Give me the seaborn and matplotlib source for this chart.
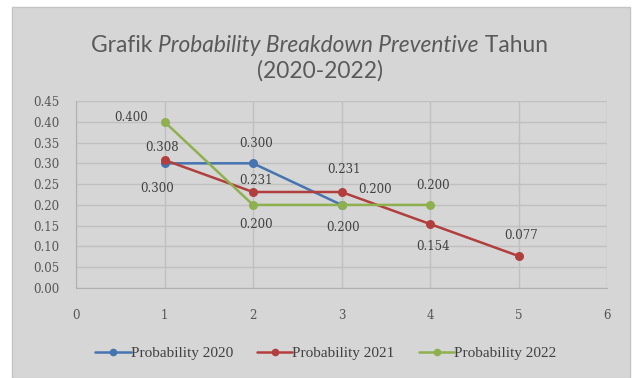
import matplotlib
matplotlib.use("Agg")
import matplotlib.pyplot as plt
import seaborn as sns
import pandas as pd
from matplotlib.patches import Rectangle

x2020 = [1, 2, 3]
p2020 = [0.300, 0.300, 0.200]
x2021 = [1, 2, 3, 4, 5]
p2021 = [0.308, 0.231, 0.231, 0.154, 0.077]
x2022 = [1, 2, 3, 4]
p2022 = [0.400, 0.200, 0.200, 0.200]
series_names = ["Probability 2020", "Probability 2021", "Probability 2022"]
colors = ["#4574b0", "#b13f3d", "#8fb04f"]
y_ticks = [0.00, 0.05, 0.10, 0.15, 0.20, 0.25, 0.30, 0.35, 0.40, 0.45]
x_ticks = [0, 1, 2, 3, 4, 5, 6]

df = pd.concat([
    pd.DataFrame({"x": x2020, "y": p2020, "series": series_names[0]}),
    pd.DataFrame({"x": x2021, "y": p2021, "series": series_names[1]}),
    pd.DataFrame({"x": x2022, "y": p2022, "series": series_names[2]}),
], ignore_index=True)

sns.set_style("white")
W, H = 632, 378
fig = plt.figure(figsize=(W / 100, H / 100), dpi=100)
fig.patch.set_facecolor("white")
bg = "#d6d6d6"
fig.patches.append(Rectangle((12 / W, 0), (630 - 12) / W, (H - 7) / H,
                             transform=fig.transFigure, facecolor=bg,
                             edgecolor="#c4c4c4", lw=1, zorder=-10))

ax = fig.add_axes([76 / W, 1 - 288 / H, (607 - 76) / W, (288 - 101) / H])
ax.set_facecolor(bg)

sns.lineplot(data=df, x="x", y="y", hue="series", palette=colors, marker="o",
             markersize=6.5, markeredgewidth=0, linewidth=1.8, ax=ax, legend=True,
             zorder=3)

ax.set_xlim(0, 6)
ax.set_ylim(0, 0.45)
ax.set_xticks(x_ticks)
ax.set_yticks(y_ticks)
ax.set_yticklabels([f"{v:.2f}" for v in y_ticks])
ax.set_xlabel("")
ax.set_ylabel("")
for lab in ax.get_xticklabels() + ax.get_yticklabels():
    lab.set_fontfamily("DejaVu Serif")
    lab.set_fontsize(8.5)
    lab.set_color("#555555")
ax.tick_params(axis="x", pad=15, length=0)
ax.tick_params(axis="y", pad=12, length=0)
ax.grid(True, color="#c0c0c0", linewidth=1)
ax.set_axisbelow(True)
for s in ax.spines.values():
    s.set_visible(False)
ax.spines["left"].set_visible(True)
ax.spines["left"].set_color("#b0b0b0")
ax.spines["bottom"].set_visible(True)
ax.spines["bottom"].set_color("#b0b0b0")

# data labels (offsets in points)
label_offsets = {
    0: [(-5, -18), (2, 14), (1, -16)],
    1: [(-2, 9), (2, 8.5), (2, 16), (2, -16.5), (2, 15)],
    2: [(-24, 3), (2, -14), (24, 11), (2, 14)],
}
for si, (xs, ys) in enumerate([(x2020, p2020), (x2021, p2021), (x2022, p2022)]):
    for i, (xv, yv) in enumerate(zip(xs, ys)):
        dx, dy = label_offsets[si][i]
        ax.annotate(f"{yv:.3f}", (xv, yv), xytext=(dx, dy), textcoords="offset points",
                    ha="center", va="center", fontsize=8.5,
                    family="DejaVu Serif", color="#404040", zorder=5)

# legend
handles, labels = ax.get_legend_handles_labels()
ax.legend_.remove()
for h in handles:
    h.set_markersize(5.5)
leg = fig.legend(handles, labels, loc="center", bbox_to_anchor=(326 / W, 1 - 353 / H),
                 ncol=3, frameon=False, fontsize=11, handlelength=2.3,
                 columnspacing=1.6, handletextpad=0.0)
for t in leg.get_texts():
    t.set_color("#404040")
    t.set_fontfamily("Liberation Serif")

# title with mixed italic
title_color = "#5a5a5a"
fs = 16.4
parts = [("Grafik ", "normal"), ("Probability Breakdown Preventive", "italic"), (" Tahun", "normal")]
texts = []
for s, st in parts:
    texts.append(fig.text(0, 0, s, fontsize=fs, style=st, family="Lato",
                          color=title_color, va="baseline", ha="left"))
fig.canvas.draw()
r = fig.canvas.get_renderer()
widths = [t.get_window_extent(r).width for t in texts]
total = sum(widths)
x0 = 319.5 - total / 2
yb = 1 - 52 / H
for t, w in zip(texts, widths):
    t.set_position((x0 / W, yb))
    x0 += w
fig.text(320 / W, 1 - 78 / H, "(2020-2022)", fontsize=fs, family="Lato",
         color=title_color, ha="center", va="baseline")

fig.savefig("out.png", dpi=100, facecolor="white")
